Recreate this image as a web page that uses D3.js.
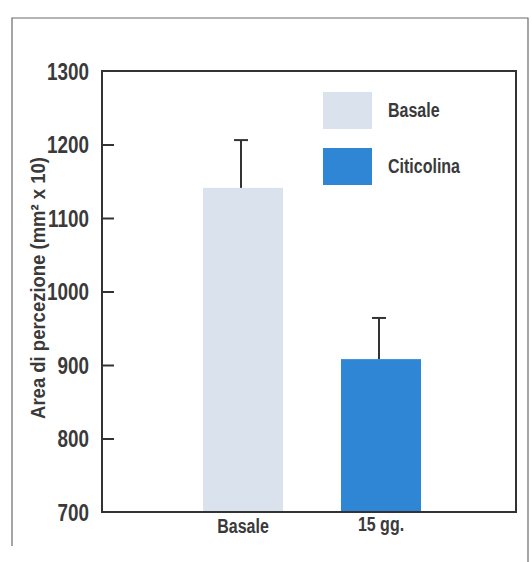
<!DOCTYPE html>
<html>
<head>
<meta charset="utf-8">
<script src="https://cdn.jsdelivr.net/npm/d3@7"></script>
<style>
  html, body { margin: 0; padding: 0; background: #fff; }
  svg { display: block; }
  text { font-family: "Liberation Sans Narrow", "Arial Narrow", "Liberation Sans", sans-serif; font-weight: bold; fill: #3a3a3a; }
</style>
</head>
<body>
<svg id="chart" width="532" height="562"></svg>
<script>
// Perception area at baseline and after 15 days of citicoline
const categories = ["Basale", "15 gg."];
const seriesNames = ["Basale", "Citicolina"];
const means = [1141, 908];
const errors = [65, 56];
const yTicks = [700, 800, 900, 1000, 1100, 1200, 1300];
const colors = ["#dae2ee", "#2f86d4"];

const svg = d3.select("#chart");

// Condense a text element to a narrow width (Helvetica Condensed look)
function narrow(sel, ratio) {
  sel.each(function () {
    const w = this.getComputedTextLength();
    d3.select(this).attr("textLength", w * ratio).attr("lengthAdjust", "spacingAndGlyphs");
  });
}

// Outer frame of the figure
svg.append("path")
  .attr("d", "M12,546 L12,18 L528,18 L528,562")
  .attr("fill", "none")
  .attr("stroke", "#6a6a6a")
  .attr("stroke-width", 1.2);

const plot = { left: 102, right: 516, top: 71, bottom: 512 };

const y = d3.scaleLinear().domain([700, 1300]).range([plot.bottom, plot.top]);
const x = d3.scaleBand().domain(categories).range([134, 490]).paddingInner(0.42).paddingOuter(0.5);

// Bars
svg.append("g").selectAll("rect")
  .data(categories)
  .join("rect")
  .attr("x", d => x(d))
  .attr("width", x.bandwidth())
  .attr("y", (d, i) => y(means[i]))
  .attr("height", (d, i) => y(700) - y(means[i]))
  .attr("fill", (d, i) => colors[i]);

// Upper error bars
const eb = svg.append("g").attr("stroke", "#333").attr("stroke-width", 2);
categories.forEach((c, i) => {
  const cx = x(c) + x.bandwidth() / 2 - 2;
  eb.append("line").attr("x1", cx).attr("x2", cx).attr("y1", y(means[i])).attr("y2", y(means[i] + errors[i]));
  eb.append("line").attr("x1", cx - 7).attr("x2", cx + 7).attr("y1", y(means[i] + errors[i])).attr("y2", y(means[i] + errors[i]));
});

// Plot frame
svg.append("rect")
  .attr("x", plot.left).attr("y", plot.top)
  .attr("width", plot.right - plot.left).attr("height", plot.bottom - plot.top)
  .attr("fill", "none").attr("stroke", "#333").attr("stroke-width", 2);

// Y axis with inward ticks
const yAxis = d3.axisLeft(y).tickValues(yTicks).tickSize(0).tickPadding(0).tickFormat(d3.format("d"));
const gy = svg.append("g").attr("transform", `translate(${plot.left},0)`).call(yAxis);
gy.select(".domain").remove();
gy.selectAll(".tick text")
  .attr("x", -13)
  .attr("dy", "0.36em")
  .style("font-size", "23px")
  .attr("fill", "#3a3a3a")
  .call(narrow, 0.82);
gy.selectAll(".tick")
  .filter(d => d > 700 && d < 1300)
  .append("line")
  .attr("x1", 0).attr("x2", 12)
  .attr("stroke", "#333").attr("stroke-width", 2);

// X axis category labels
const xAxis = d3.axisBottom(x).tickSize(0).tickPadding(0);
const gx = svg.append("g").attr("transform", `translate(0,${plot.bottom})`).call(xAxis);
gx.select(".domain").remove();
gx.selectAll(".tick text")
  .attr("y", 0)
  .attr("dy", "1.05em")
  .style("font-size", "20px")
  .attr("fill", "#3a3a3a")
  .call(narrow, 0.8);
gx.selectAll(".tick text").filter(d => d === "15 gg.").attr("dy", "0.95em");

// Y axis title
svg.append("text")
  .attr("transform", "translate(45,288) rotate(-90)")
  .attr("text-anchor", "middle")
  .style("font-size", "21px")
  .text("Area di percezione (mm² x 10)")
  .call(narrow, 0.88);

// Legend
const legend = svg.append("g");
seriesNames.forEach((name, i) => {
  const ly = 92 + i * 56;
  legend.append("rect")
    .attr("x", 323).attr("y", ly)
    .attr("width", 49).attr("height", 37)
    .attr("fill", colors[i]);
  legend.append("text")
    .attr("x", 388).attr("y", ly + 18)
    .attr("dy", "0.36em")
    .style("font-size", "20px")
    .text(name)
    .call(narrow, 0.8);
});
</script>
</body>
</html>
